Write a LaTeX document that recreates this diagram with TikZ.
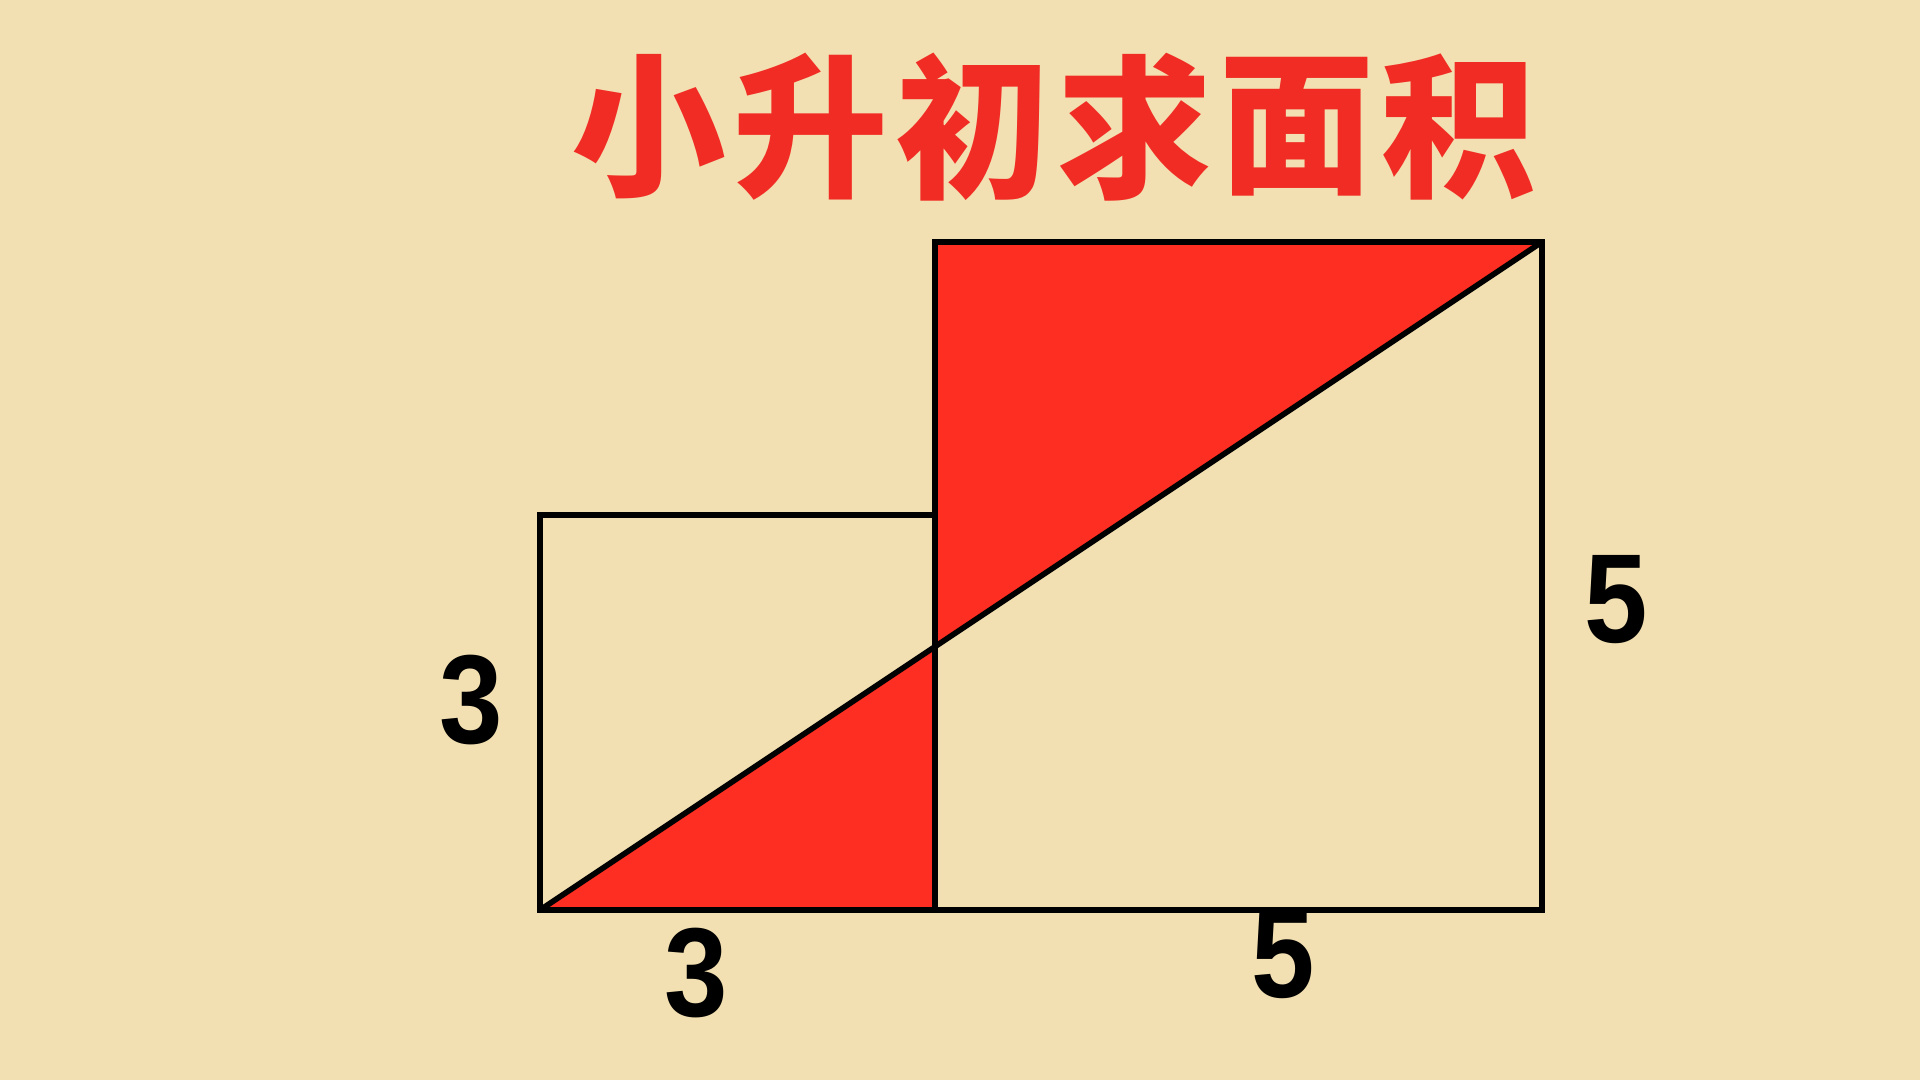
\documentclass[tikz,border=0pt]{standalone}
\usepackage{fontspec}
\setmainfont{Liberation Sans}
\newfontfamily\cjk{Noto Sans CJK SC}
\definecolor{bgc}{RGB}{243,224,178}
\definecolor{redfill}{RGB}{255,46,34}
\definecolor{titlered}{RGB}{240,44,36}
\begin{document}
\begin{tikzpicture}[x=0.01cm,y=-0.01cm,
  edge/.style={line width=1.6pt,line join=miter},
  num/.style={inner sep=0pt,font=\fontsize{36pt}{36pt}\selectfont\bfseries},
  tch/.style={inner sep=0pt,text=titlered,font=\fontsize{44pt}{44pt}\selectfont\cjk\bfseries}]
\fill[bgc] (0,0) rectangle (1920,1080);
\useasboundingbox (0,0) rectangle (1920,1080);
% corners
\coordinate (A) at (540,910);   % small square bottom-left
\coordinate (B) at (935,910);   % shared bottom
\coordinate (C) at (935,515);   % small square top-right
\coordinate (D) at (540,515);   % small square top-left
\coordinate (E) at (935,242);   % big top-left
\coordinate (F) at (1542,242);  % big top-right
\coordinate (G) at (1542,910);  % big bottom-right
\coordinate (P) at (935,647);   % diagonal crossing
% red regions
\fill[redfill] (A) -- (B) -- (P) -- cycle;
\fill[redfill] (P) -- (E) -- (F) -- cycle;
% outlines
\draw[edge] (A) -- (D) -- (C) -- (E) -- (F) -- (G) -- cycle;
\draw[edge] (C) -- (B);
\draw[edge] (A) -- (F);
% labels
\node[num] (l3) at (471,700) {\scalebox{0.9}[1]{3}};
\node[num] (b3) at (696,973) {\scalebox{0.9}[1]{3}};
\node[num] (b5) at (1283,955) {\scalebox{0.9}[1]{5}};
\node[num] (r5) at (1616,600) {\scalebox{0.9}[1]{5}};
% title
\node[tch] (t1) at (649,127) {小};
\node[tch] (t2) at (811,127) {升};
\node[tch] (t3) at (973,127) {初};
\node[tch] (t4) at (1135,127) {求};
\node[tch] (t5) at (1297,127) {面};
\node[tch] (t6) at (1459,127) {积};
\end{tikzpicture}
\end{document}
